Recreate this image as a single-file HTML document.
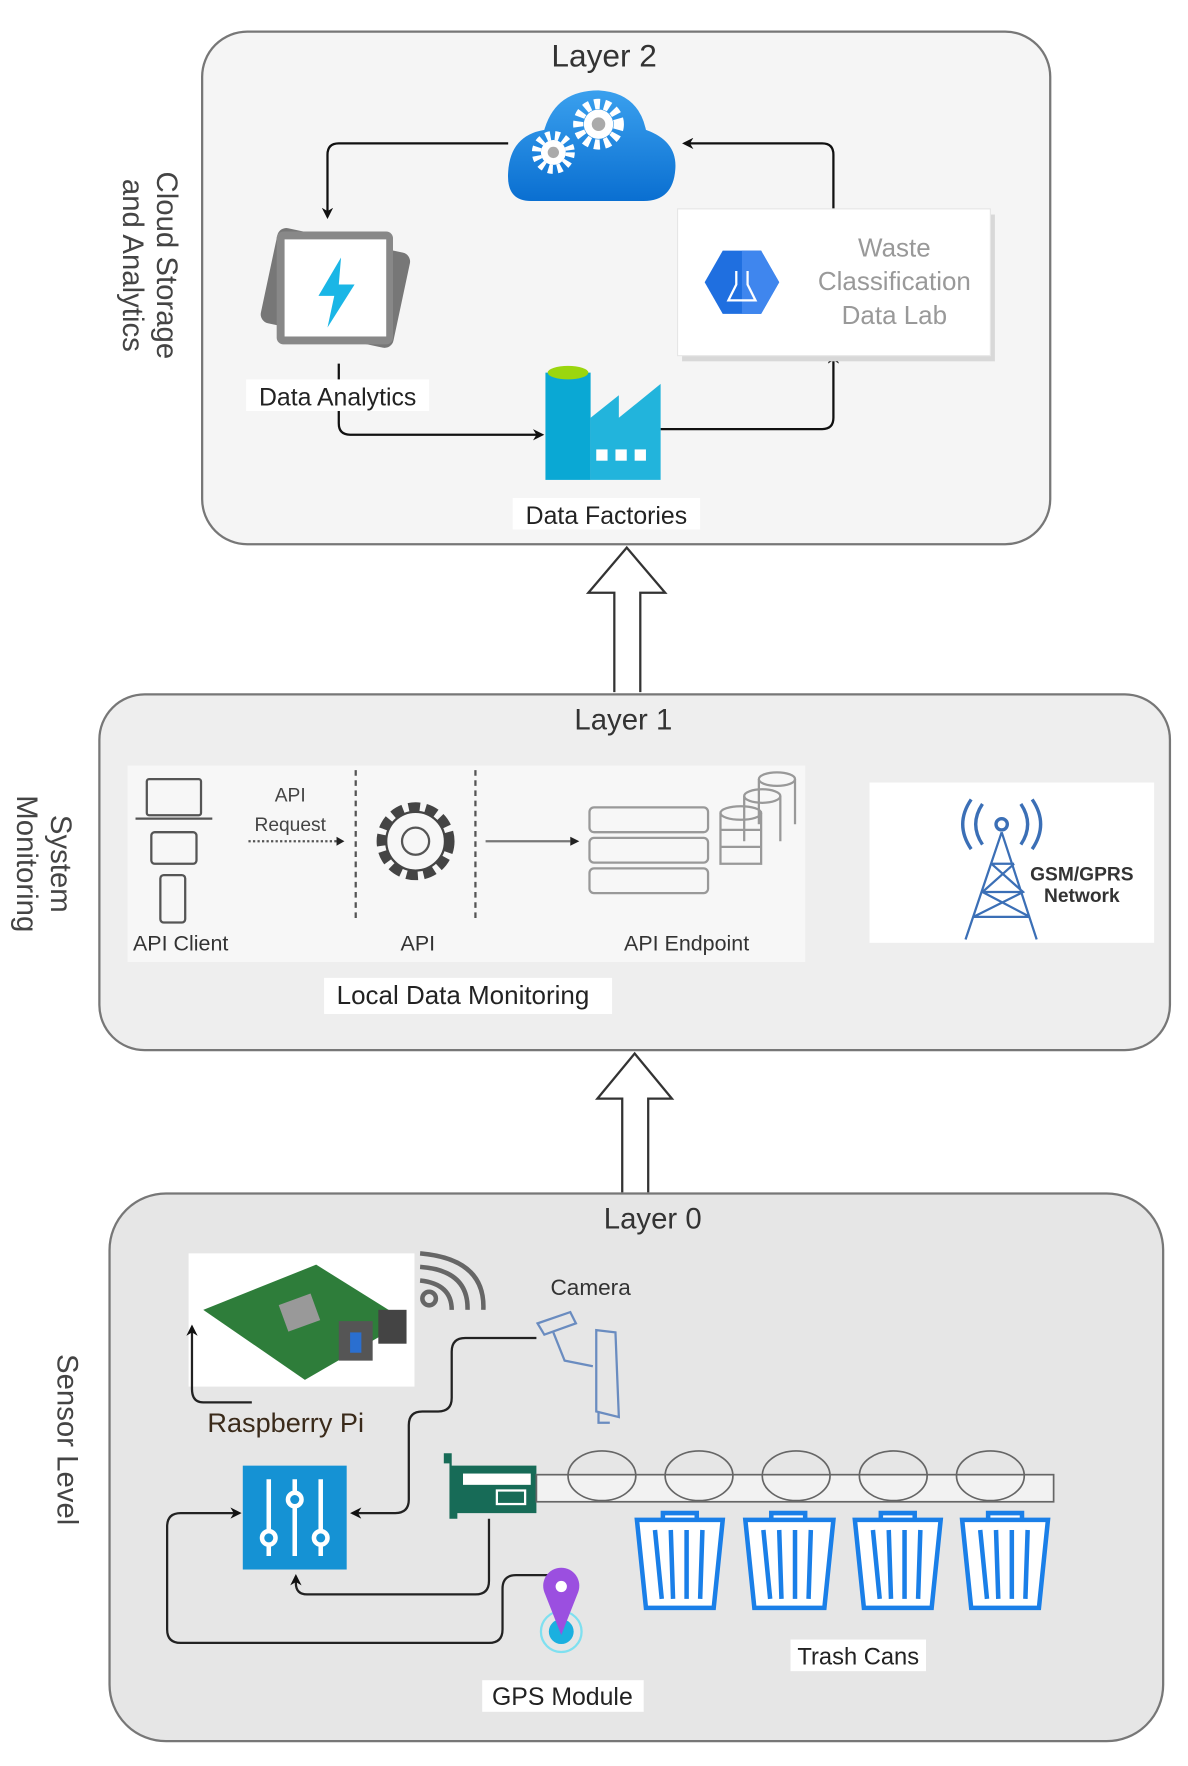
<!DOCTYPE html>
<html><head><meta charset="utf-8"><style>
html,body{margin:0;padding:0;background:#fff;}
svg{display:block;}
text{font-family:"Liberation Sans",sans-serif;}
</style></head><body>
<svg width="1188" height="1766" viewBox="0 0 1052 1564" preserveAspectRatio="none" xmlns="http://www.w3.org/2000/svg">
<defs>
<marker id="ah" markerWidth="10" markerHeight="10" refX="8" refY="5" orient="auto" markerUnits="userSpaceOnUse"><path d="M0,0 L10,5 L0,10 L3,5 z" fill="#111"/></marker>
<linearGradient id="cg" x1="0" y1="0" x2="0" y2="1"><stop offset="0" stop-color="#3aa0ee"/><stop offset="1" stop-color="#0a6fd1"/></linearGradient>
</defs>

<!-- Layer 2 -->
<rect x="179" y="28" width="751" height="454" rx="40" fill="#f5f5f5" stroke="#777" stroke-width="2"/>
<text x="535" y="59" font-size="28" text-anchor="middle" fill="#333">Layer 2</text>
<g transform="translate(127,235) rotate(90)"><text x="0" y="-12" font-size="26" text-anchor="middle" fill="#444">Cloud Storage</text><text x="0" y="18" font-size="26" text-anchor="middle" fill="#444">and Analytics</text></g>
<!-- cloud -->
<path d="M470,178 Q448,178 450,152 Q452,120 482,115 Q492,80 530,80 Q565,82 572,115 Q600,125 598,150 Q596,178 570,178 Z" fill="url(#cg)"/>
<circle cx="530" cy="110" r="18" fill="none" stroke="#fff" stroke-width="9" stroke-dasharray="5 4"/><circle cx="530" cy="110" r="13" fill="#fff"/><circle cx="530" cy="110" r="6" fill="#aaa"/>
<circle cx="490" cy="135" r="15" fill="none" stroke="#fff" stroke-width="8" stroke-dasharray="4 4"/><circle cx="490" cy="135" r="11" fill="#fff"/><circle cx="490" cy="135" r="5" fill="#aaa"/>
<!-- arrows layer2 -->
<path d="M450,127 H300 Q290,127 290,137 V192" fill="none" stroke="#111" stroke-width="2" marker-end="url(#ah)"/>
<path d="M738,185 V137 Q738,127 728,127 H606" fill="none" stroke="#111" stroke-width="2" marker-end="url(#ah)"/>
<path d="M300,322 V375 Q300,385 310,385 H480" fill="none" stroke="#111" stroke-width="2" marker-end="url(#ah)"/>
<path d="M585,380 H728 Q738,380 738,370 V314" fill="none" stroke="#111" stroke-width="2" marker-end="url(#ah)"/>
<!-- data analytics icon -->
<rect x="237" y="212" width="120" height="86" rx="8" fill="#777" transform="rotate(12 297 255)"/>
<rect x="245" y="205" width="103" height="100" rx="6" fill="#888"/>
<rect x="252" y="212" width="90" height="86" fill="#fff"/>
<path d="M302,228 L282,262 L296,262 L290,290 L314,252 L300,252 Z" fill="#1ab6e6"/>
<rect x="218" y="336" width="162" height="28" fill="#fff"/>
<text x="299" y="359" font-size="22" text-anchor="middle" fill="#222">Data Analytics</text>
<!-- factory -->
<rect x="483" y="330" width="40" height="95" fill="#0aa8d4"/>
<ellipse cx="503" cy="330" rx="18" ry="6" fill="#9bd60e"/>
<path d="M523,425 V370 L548,350 V370 L585,340 V425 Z" fill="#22b4dc"/>
<rect x="528" y="398" width="10" height="10" fill="#fff"/><rect x="545" y="398" width="10" height="10" fill="#fff"/><rect x="562" y="398" width="10" height="10" fill="#fff"/>
<rect x="454" y="441" width="166" height="28" fill="#fff"/>
<text x="537" y="464" font-size="22" text-anchor="middle" fill="#222">Data Factories</text>
<!-- waste box -->
<rect x="604" y="190" width="277" height="130" fill="#d8d8d8"/>
<rect x="600" y="185" width="277" height="130" fill="#fff" stroke="#e6e6e6"/>
<polygon points="640,222 674,222 690,250 674,278 640,278 624,250" fill="#1f6fe0"/>
<polygon points="657,222 674,222 690,250 674,278 657,278" fill="#3f86ee"/>
<path d="M652,240 V252 L645,266 H669 L662,252 V240" fill="none" stroke="#fff" stroke-width="2"/>
<text x="792" y="227" font-size="23" text-anchor="middle" fill="#999">Waste</text>
<text x="792" y="257" font-size="23" text-anchor="middle" fill="#999">Classification</text>
<text x="792" y="287" font-size="23" text-anchor="middle" fill="#999">Data Lab</text>

<!-- hollow arrow 1 -->
<path d="M544,613 V525 H521 L555,485 L589,525 H567 V613" fill="#fff" stroke="#333" stroke-width="2"/>

<!-- Layer 1 -->
<rect x="88" y="615" width="948" height="315" rx="40" fill="#eeeeee" stroke="#777" stroke-width="2"/>
<text x="552" y="646" font-size="26" text-anchor="middle" fill="#333">Layer 1</text>
<g transform="translate(37,765) rotate(90)"><text x="0" y="-8" font-size="26" text-anchor="middle" fill="#444">System</text><text x="0" y="22" font-size="26" text-anchor="middle" fill="#444">Monitoring</text></g>
<rect x="113" y="678" width="600" height="174" fill="#f7f7f7"/>
<g fill="none" stroke="#555" stroke-width="2">
<rect x="130" y="690" width="48" height="32" rx="2"/><line x1="120" y1="725" x2="188" y2="725"/>
<rect x="134" y="737" width="40" height="28" rx="3"/>
<rect x="142" y="775" width="22" height="42" rx="3"/>
<line x1="220" y1="745" x2="298" y2="745" stroke-dasharray="2 2"/>
<line x1="315" y1="682" x2="315" y2="815" stroke-dasharray="5 4"/>
<line x1="421" y1="682" x2="421" y2="815" stroke-dasharray="5 4"/>
<circle cx="368" cy="745" r="30" stroke-dasharray="10 5" stroke-width="9" stroke="#444"/>
<circle cx="368" cy="745" r="26" fill="#f7f7f7" stroke="#444"/>
<circle cx="368" cy="745" r="12"/>
<line x1="430" y1="745" x2="505" y2="745" stroke="#777"/>
<rect x="522" y="715" width="105" height="22" rx="4" stroke="#999"/>
<rect x="522" y="742" width="105" height="22" rx="4" stroke="#999"/>
<rect x="522" y="769" width="105" height="22" rx="4" stroke="#999"/>
<ellipse cx="688" cy="690" rx="16" ry="6" stroke="#999"/><path d="M672,690 V730 M704,690 V730" stroke="#999"/>
<ellipse cx="675" cy="705" rx="16" ry="6" stroke="#999"/><path d="M659,705 V745 M691,705 V745" stroke="#999"/>
<ellipse cx="656" cy="720" rx="18" ry="6" stroke="#999"/><path d="M638,720 V765 H674 V720 M638,735 H674 M638,750 H674" stroke="#999"/>
</g>
<path d="M298,741 L305,745 L298,749 Z" fill="#222"/><path d="M505,741 L513,745 L505,749 Z" fill="#222"/>
<text x="257" y="710" font-size="17" text-anchor="middle" fill="#444">API</text>
<text x="257" y="736" font-size="17" text-anchor="middle" fill="#444">Request</text>
<text x="160" y="842" font-size="19" text-anchor="middle" fill="#333">API Client</text>
<text x="370" y="842" font-size="19" text-anchor="middle" fill="#333">API</text>
<text x="608" y="842" font-size="19" text-anchor="middle" fill="#333">API Endpoint</text>
<!-- GSM -->
<rect x="770" y="693" width="252" height="142" fill="#fff"/>
<g fill="none" stroke="#3b6fb6" stroke-width="3">
<path d="M870,712 Q858,730 870,748 M860,708 Q845,730 860,752 M904,712 Q916,730 904,748 M914,708 Q929,730 914,752"/>
<circle cx="887" cy="730" r="5"/>
<path d="M887,737 L855,832 M887,737 L918,832 M878,765 L898,765 M870,790 L906,790 M862,812 L912,812 M878,765 L906,790 L862,812 M898,765 L870,790 L912,812" stroke-width="2"/>
</g>
<text x="958" y="780" font-size="17" font-weight="bold" text-anchor="middle" fill="#333" font-family="Liberation Serif, serif">GSM/GPRS</text>
<text x="958" y="799" font-size="17" font-weight="bold" text-anchor="middle" fill="#333" font-family="Liberation Serif, serif">Network</text>
<rect x="287" y="866" width="255" height="32" fill="#fff"/>
<text x="410" y="889" font-size="23" text-anchor="middle" fill="#222">Local Data Monitoring</text>

<!-- hollow arrow 2 -->
<path d="M551,1056 V973 H529 L562,933 L595,973 H574 V1056" fill="#fff" stroke="#333" stroke-width="2"/>

<!-- Layer 0 -->
<rect x="97" y="1057" width="933" height="485" rx="50" fill="#e6e6e6" stroke="#777" stroke-width="2"/>
<text x="578" y="1088" font-size="26" text-anchor="middle" fill="#333">Layer 0</text>
<g transform="translate(60,1275) rotate(90)"><text x="0" y="9" font-size="26" text-anchor="middle" fill="#444">Sensor Level</text></g>
<!-- raspberry pi -->
<rect x="167" y="1110" width="200" height="118" fill="#fff"/>
<polygon points="180,1160 280,1120 360,1170 270,1222" fill="#2e7d3a"/>
<rect x="250" y="1150" width="30" height="25" fill="#999" transform="rotate(-20 265 1162)"/>
<rect x="300" y="1170" width="30" height="35" fill="#555"/><rect x="335" y="1160" width="25" height="30" fill="#444"/>
<rect x="310" y="1180" width="10" height="18" fill="#2a6fd0"/>
<g fill="none" stroke="#666" stroke-width="4"><path d="M372,1110 Q430,1115 428,1160 M372,1122 Q415,1125 414,1160 M372,1134 Q400,1137 400,1160"/><circle cx="380" cy="1150" r="6"/></g>
<text x="523" y="1147" font-size="20" text-anchor="middle" fill="#333">Camera</text>
<g fill="none" stroke="#6a8cc0" stroke-width="2"><path d="M476,1172 L505,1162 L510,1172 L482,1182 Z"/><path d="M490,1180 L500,1205 L525,1210 M528,1178 L545,1180 L548,1255 L528,1250 Z M530,1250 V1260 H540"/></g>
<path d="M223,1242 H180 Q170,1242 170,1230 V1175" fill="none" stroke="#222" stroke-width="2" marker-end="url(#ah)"/>
<text x="253" y="1268" font-size="24" text-anchor="middle" fill="#3a2a1a" font-family="Liberation Serif, serif">Raspberry Pi</text>
<path d="M475,1185 H412 Q400,1185 400,1197 V1238 Q400,1250 388,1250 H374 Q362,1250 362,1262 V1328 Q362,1340 350,1340 H312" fill="none" stroke="#222" stroke-width="2" marker-end="url(#ah)"/>
<!-- mixer -->
<rect x="215" y="1298" width="92" height="92" fill="#1592d4"/>
<g stroke="#fff" stroke-width="4" fill="#1592d4"><line x1="238" y1="1310" x2="238" y2="1378"/><line x1="261" y1="1310" x2="261" y2="1378"/><line x1="284" y1="1310" x2="284" y2="1378"/><circle cx="238" cy="1362" r="6"/><circle cx="261" cy="1328" r="6"/><circle cx="284" cy="1362" r="6"/></g>
<!-- network card -->
<path d="M393,1287 H400 V1298 H475 V1340 H405 V1345 H398 V1296 H393 Z" fill="#176b57"/>
<rect x="410" y="1305" width="60" height="10" fill="#fff"/><rect x="440" y="1320" width="25" height="12" fill="none" stroke="#fff" stroke-width="2"/>
<!-- conveyor -->
<rect x="475" y="1306" width="458" height="24" fill="#f2f2f2" stroke="#666" stroke-width="1.5"/>
<g fill="none" stroke="#666" stroke-width="1.5"><ellipse cx="533" cy="1307" rx="30" ry="22"/><ellipse cx="619" cy="1307" rx="30" ry="22"/><ellipse cx="705" cy="1307" rx="30" ry="22"/><ellipse cx="791" cy="1307" rx="30" ry="22"/><ellipse cx="877" cy="1307" rx="30" ry="22"/></g>
<!-- trash cans -->
<g fill="#fff" stroke="#1a7fe8" stroke-width="4">
<path d="M564,1346 H640 L632,1424 H572 Z M587,1346 V1340 H617 V1346 M580,1355 L586,1416 M594,1355 L596,1416 M608,1355 L608,1416 M622,1355 L620,1416"/>
<path d="M660,1346 H738 L730,1424 H668 Z M683,1346 V1340 H713 V1346 M676,1355 L682,1416 M690,1355 L692,1416 M704,1355 L704,1416 M718,1355 L716,1416"/>
<path d="M757,1346 H833 L825,1424 H765 Z M780,1346 V1340 H810 V1346 M773,1355 L779,1416 M787,1355 L789,1416 M801,1355 L801,1416 M815,1355 L813,1416"/>
<path d="M852,1346 H928 L920,1424 H860 Z M875,1346 V1340 H905 V1346 M868,1355 L874,1416 M882,1355 L884,1416 M896,1355 L896,1416 M910,1355 L908,1416"/>
</g>
<rect x="700" y="1452" width="120" height="28" fill="#fff"/>
<text x="760" y="1474" font-size="21" text-anchor="middle" fill="#222">Trash Cans</text>
<!-- connectors -->
<path d="M433,1345 V1400 Q433,1412 421,1412 H272 Q262,1412 262,1402 V1396" fill="none" stroke="#222" stroke-width="2" marker-end="url(#ah)"/>
<path d="M485,1395 H457 Q445,1395 445,1407 V1443 Q445,1455 433,1455 H160 Q148,1455 148,1443 V1352 Q148,1340 160,1340 H212" fill="none" stroke="#222" stroke-width="2" marker-end="url(#ah)"/>
<!-- gps -->
<circle cx="497" cy="1445" r="18" fill="none" stroke="#7fe0f0" stroke-width="2"/>
<circle cx="497" cy="1445" r="11" fill="#1ab0e0"/>
<path d="M497,1448 L482,1410 A16,16 0 1 1 512,1410 Z" fill="#9b4fe0"/>
<circle cx="497" cy="1405" r="5" fill="#fff"/>
<rect x="427" y="1488" width="143" height="28" fill="#fff"/>
<text x="498" y="1510" font-size="22" text-anchor="middle" fill="#222">GPS Module</text>
</svg>
</body></html>
